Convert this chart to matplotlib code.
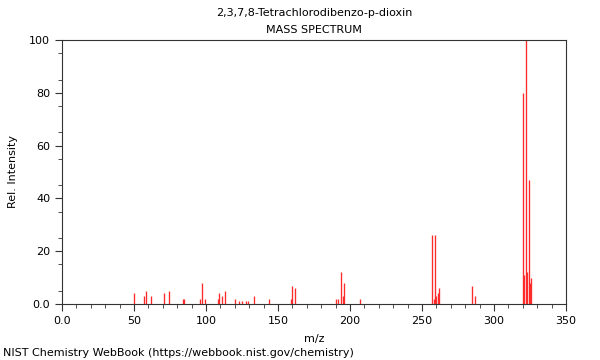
import matplotlib
matplotlib.use("Agg")
import matplotlib.pyplot as plt
from matplotlib.ticker import FixedLocator, MultipleLocator

title = "2,3,7,8-Tetrachlorodibenzo-p-dioxin"
subtitle = "MASS SPECTRUM"
footer = "NIST Chemistry WebBook (https://webbook.nist.gov/chemistry)"

mz = [50, 57, 58, 62, 71, 74, 84, 85, 96, 97, 99, 108, 109, 111, 113, 120,
      123, 125, 128, 129, 133, 144, 159, 160, 162, 190, 192, 194, 195, 196,
      207, 257, 258, 259, 260, 261, 262, 285, 287, 320, 321, 322, 323, 324,
      325, 326]
intensity = [4, 3, 5, 3, 4, 5, 2, 2, 2, 8, 2, 2, 4, 3, 5, 2,
             1, 1, 1, 1, 3, 2, 2, 7, 6, 2, 2, 12, 3, 8,
             2, 26, 2, 26, 3, 4, 6, 7, 3, 80, 11, 100, 12, 47,
             8, 10]

xticks = [0, 50, 100, 150, 200, 250, 300, 350]
xticklabels = ["0.0", "50", "100", "150", "200", "250", "300", "350"]
yticks = [0, 20, 40, 60, 80, 100]
yticklabels = ["0.0", "20", "40", "60", "80", "100"]

fig = plt.figure(figsize=(6, 3.6), dpi=100)
ax = fig.add_axes([62/600, 1-304/360, 504/600, 264/360])

ax.vlines(mz, 0, intensity, colors="#ff2a2a", linewidth=0.95)

ax.set_xlim(0, 350)
ax.set_ylim(0, 100)
ax.set_xticks(xticks)
ax.set_xticklabels(xticklabels)
ax.set_yticks(yticks)
ax.set_yticklabels(yticklabels)
ax.xaxis.set_minor_locator(MultipleLocator(10))
ax.yaxis.set_minor_locator(FixedLocator([5, 15, 25, 35, 45, 55, 65, 75, 85, 95]))
ax.tick_params(which="major", length=5, width=0.8, labelsize=8, color="#333333")
ax.tick_params(which="minor", length=3, width=0.6, color="#333333")
for s in ax.spines.values():
    s.set_color("#333333")
    s.set_linewidth(0.8)

ax.set_xlabel("m/z", fontsize=8, labelpad=6)
ax.set_ylabel("Rel. Intensity", fontsize=8, labelpad=8)

fig.text(314/600, 1-13/360, title, ha="center", va="center", fontsize=8)
fig.text(314/600, 1-30/360, subtitle, ha="center", va="center", fontsize=8)
fig.text(3/600, 1-353/360, footer, ha="left", va="center", fontsize=8)

fig.savefig("out.png", dpi=100)
